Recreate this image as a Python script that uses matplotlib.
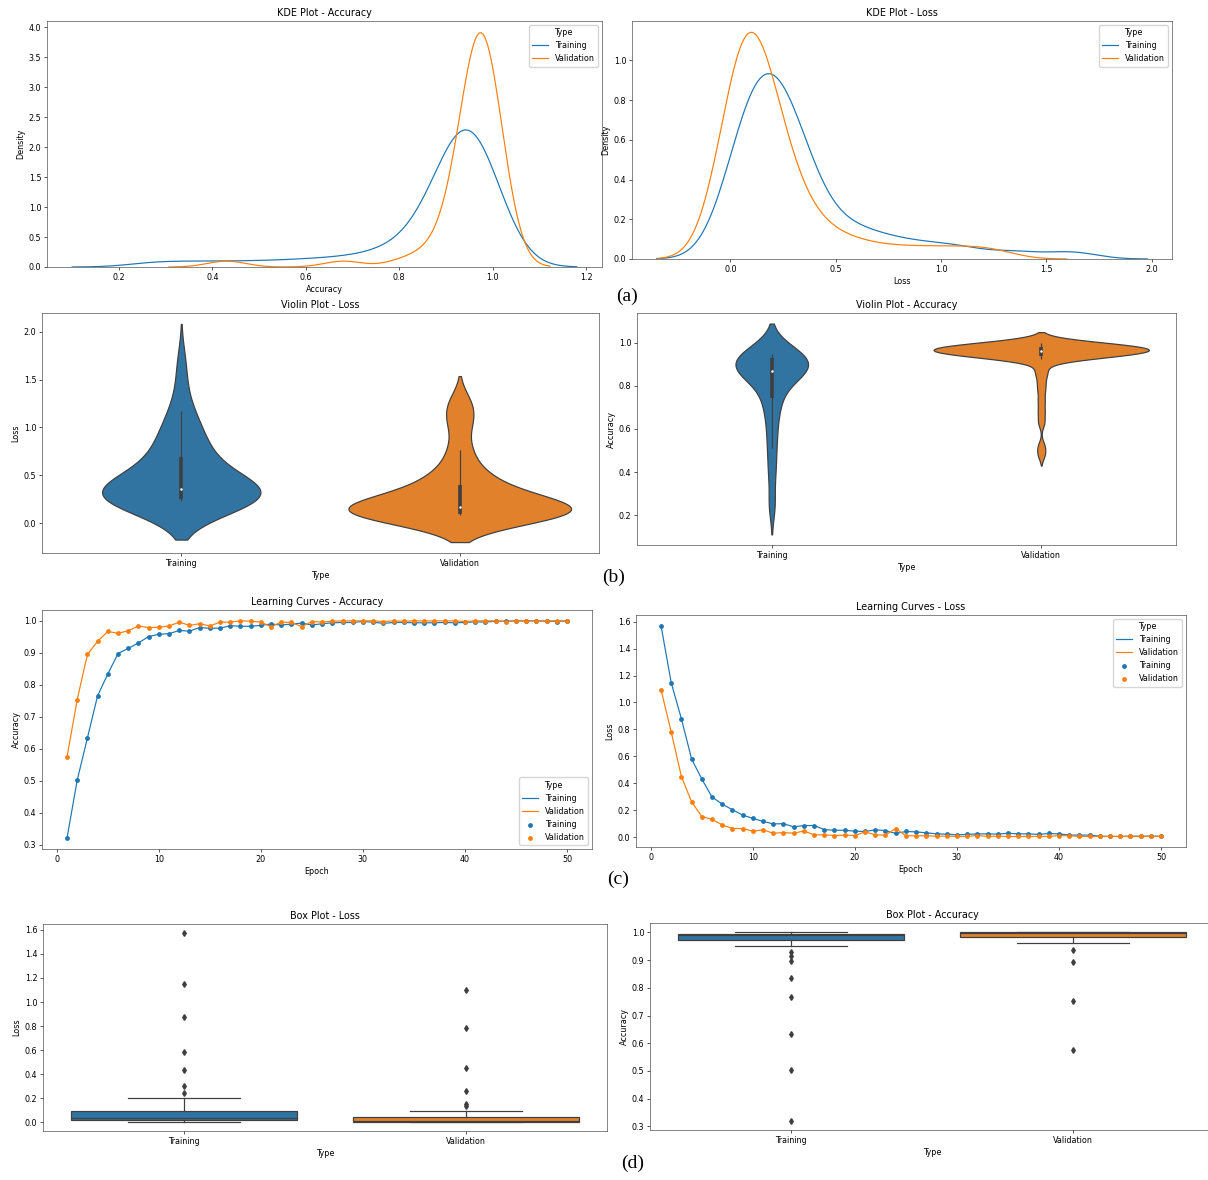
import numpy as np
import matplotlib
matplotlib.use("Agg")
import matplotlib.pyplot as plt

# ---------------- data ----------------
types = ["Training", "Validation"]
epochs = list(range(1, 51))
train_acc = [0.321, 0.502, 0.634, 0.766, 0.834, 0.898, 0.914, 0.931, 0.951, 0.958,
             0.960, 0.970, 0.968, 0.979, 0.977, 0.977, 0.985, 0.983, 0.983, 0.986,
             0.990, 0.987, 0.990, 0.993, 0.987, 0.991, 0.994, 0.995, 0.995, 0.998,
             0.996, 0.992, 0.995, 0.995, 0.994, 0.994, 0.994, 0.995, 0.994, 0.995,
             0.997, 0.996, 0.999, 0.999, 1.000, 1.000, 1.000, 0.999, 0.998, 1.000]
val_acc = [0.574, 0.754, 0.895, 0.936, 0.967, 0.961, 0.969, 0.984, 0.979, 0.980,
           0.984, 0.996, 0.986, 0.991, 0.984, 0.996, 0.996, 1.000, 0.999, 0.996,
           0.982, 0.996, 0.995, 0.982, 0.998, 0.996, 0.999, 1.000, 1.000, 1.000,
           1.000, 0.998, 1.000, 0.999, 1.000, 1.000, 1.000, 1.000, 1.000, 0.998,
           1.000, 1.000, 1.000, 0.998, 1.000, 1.000, 1.000, 1.000, 1.000, 1.000]
train_loss = [1.571, 1.147, 0.878, 0.580, 0.431, 0.298, 0.245, 0.203, 0.164, 0.139,
              0.117, 0.098, 0.100, 0.076, 0.086, 0.086, 0.056, 0.051, 0.051, 0.044,
              0.042, 0.054, 0.049, 0.027, 0.042, 0.039, 0.032, 0.024, 0.022, 0.017,
              0.020, 0.024, 0.024, 0.022, 0.029, 0.024, 0.024, 0.020, 0.027, 0.024,
              0.015, 0.015, 0.015, 0.007, 0.005, 0.005, 0.007, 0.007, 0.007, 0.007]
val_loss = [1.096, 0.780, 0.450, 0.262, 0.152, 0.132, 0.091, 0.064, 0.064, 0.044,
            0.054, 0.029, 0.034, 0.029, 0.046, 0.017, 0.017, 0.012, 0.015, 0.012,
            0.039, 0.017, 0.015, 0.064, 0.010, 0.010, 0.010, 0.007, 0.007, 0.005,
            0.005, 0.012, 0.005, 0.007, 0.005, 0.005, 0.005, 0.005, 0.005, 0.012,
            0.010, 0.005, 0.005, 0.005, 0.005, 0.005, 0.005, 0.005, 0.005, 0.005]

# samples behind the KDE panels (a)
kde_train_acc = [0.28, 0.38, 0.48, 0.57, 0.64,
                 0.70, 0.745, 0.78, 0.81, 0.83, 0.845, 0.86, 0.87,
                 0.88, 0.89, 0.90, 0.905, 0.91, 0.915, 0.92, 0.92, 0.925, 0.93,
                 0.93, 0.93, 0.935, 0.935, 0.94, 0.94, 0.94, 0.945,
                 0.95, 0.95, 0.95, 0.955, 0.955, 0.96, 0.96, 0.96, 0.965, 0.97,
                 0.97, 0.975, 0.98, 0.98, 0.985, 0.99, 0.99, 0.995, 1.0]
kde_val_acc = [0.43, 0.68, 0.81, 0.86, 0.885, 0.905, 0.92, 0.93,
               0.94, 0.945, 0.95, 0.95, 0.955, 0.955, 0.955, 0.96, 0.96, 0.96,
               0.965, 0.965, 0.965, 0.97, 0.97, 0.97, 0.97, 0.975, 0.975, 0.975,
               0.975, 0.98, 0.98, 0.98, 0.98, 0.98, 0.985, 0.985, 0.985, 0.985,
               0.99, 0.99, 0.99, 0.99, 0.995, 0.995, 0.995, 1.0, 1.0, 1.0,
               1.0, 1.0]
kde_train_loss = [0.01, 0.02, 0.03, 0.04, 0.05, 0.06, 0.07, 0.08, 0.09, 0.10,
                  0.11, 0.115, 0.12, 0.13, 0.14, 0.15, 0.155, 0.16, 0.17,
                  0.18, 0.19, 0.20, 0.21, 0.22, 0.23, 0.24, 0.25, 0.26,
                  0.27, 0.28, 0.29, 0.30, 0.31, 0.32, 0.33, 0.34, 0.35, 0.36,
                  0.43, 0.48, 0.52, 0.57, 0.63, 0.70, 0.78, 0.88, 1.00, 1.12,
                  1.35, 1.62]
kde_val_loss = [0.0, 0.0, 0.01, 0.01, 0.02, 0.02, 0.03, 0.03, 0.04, 0.04,
                0.05, 0.05, 0.06, 0.06, 0.07, 0.07, 0.08, 0.08, 0.09, 0.09,
                0.10, 0.10, 0.11, 0.11, 0.12, 0.12, 0.13, 0.14, 0.15, 0.16,
                0.17, 0.18, 0.19, 0.20, 0.21, 0.22, 0.24, 0.26, 0.28, 0.30,
                0.33, 0.37, 0.42, 0.48, 0.56, 0.66, 0.80, 0.95, 1.10, 1.25]

# samples behind the violin panels (b)
vio_train_loss = [0.23, 0.232, 0.235, 0.238, 0.24, 0.242, 0.245, 0.247, 0.249, 0.25,
                  0.252, 0.26, 0.27, 0.28, 0.29, 0.30, 0.315, 0.33, 0.345, 0.355,
                  0.365, 0.38, 0.40, 0.43, 0.46, 0.50, 0.55, 0.60, 0.65, 0.68,
                  0.72, 0.76, 0.82, 0.88, 0.95, 1.02, 1.10, 1.17, 1.40, 1.68]
vio_val_loss = [0.09, 0.095, 0.098, 0.10, 0.10, 0.10, 0.11, 0.13, 0.15, 0.16,
                0.18, 0.22, 0.27, 0.32, 0.38, 0.46, 0.55, 0.76, 1.05, 1.25]
vio_train_acc = [0.25, 0.40, 0.51, 0.60, 0.68, 0.74, 0.76, 0.85, 0.855, 0.86,
                 0.862, 0.874, 0.88, 0.89, 0.90, 0.925, 0.93, 0.935, 0.94, 0.945,
                 0.948, 0.95]
vio_val_acc = [0.48, 0.52, 0.63, 0.68, 0.73, 0.78, 0.82, 0.86, 0.875,
               0.925, 0.93, 0.934, 0.935, 0.937, 0.938, 0.94,
               0.942, 0.944, 0.945, 0.947, 0.948, 0.95, 0.951, 0.953, 0.954, 0.955,
               0.957, 0.958, 0.959, 0.96, 0.962, 0.964, 0.965, 0.966, 0.968, 0.969,
               0.97, 0.972, 0.973, 0.974, 0.975, 0.976, 0.977, 0.978, 0.98, 0.98,
               0.981, 0.983, 0.984, 0.985, 0.987, 0.988, 0.99, 0.991, 0.993, 0.994,
               0.996, 0.998, 1.0, 1.0]

# ---------------- style ----------------
LINE_COLORS = ["#1f77b4", "#ff7f0e"]
SAT_COLORS = ["#3274a1", "#e1812c"]
GRAY = "#3f3f3f"
SC = 0.58
plt.rcParams.update({
    "font.family": ["DejaVu Sans"],
    "font.size": 10 * SC,
    "axes.titlesize": 12 * SC,
    "axes.labelsize": 10 * SC,
    "xtick.labelsize": 10 * SC,
    "ytick.labelsize": 10 * SC,
    "legend.fontsize": 10 * SC,
    "legend.title_fontsize": 10 * SC,
    "lines.linewidth": 1.5 * SC,
    "axes.linewidth": 0.8 * SC,
    "xtick.major.size": 3.5 * SC,
    "ytick.major.size": 3.5 * SC,
    "xtick.major.width": 0.8 * SC,
    "ytick.major.width": 0.8 * SC,
    "xtick.major.pad": 3.5 * SC,
    "ytick.major.pad": 3.5 * SC,
    "axes.labelpad": 4.0 * SC,
    "axes.titlepad": 6.0 * SC,
    "axes.edgecolor": "#444444",
})

W, H = 1208, 1180
fig = plt.figure(figsize=(W / 100, H / 100), dpi=100)


def add_ax(x1, y1, x2, y2):
    return fig.add_axes([x1 / W, 1 - y2 / H, (x2 - x1) / W, (y2 - y1) / H])


def gauss_kde(samples, bw, grid):
    s = np.asarray(samples, float)
    z = (grid[:, None] - s[None, :]) / bw
    return np.exp(-0.5 * z ** 2).sum(axis=1) / (len(s) * bw * np.sqrt(2 * np.pi))


def kde_panel(ax, groups, bws, title, xlabel):
    ntot = sum(len(g) for g in groups)
    for g, bw, c, name in zip(groups, bws, LINE_COLORS, types):
        grid = np.linspace(min(g) - 3 * bw, max(g) + 3 * bw, 200)
        dens = gauss_kde(g, bw, grid) * len(g) / ntot
        ax.plot(grid, dens, color=c, label=name)
    ax.set_ylim(bottom=0)
    ax.set_title(title)
    ax.set_xlabel(xlabel)
    ax.set_ylabel("Density")
    ax.legend(title="Type", loc="upper right")


def violin_panel(ax, groups, bws, title, ylabel):
    supports = []
    for g, bw in zip(groups, bws):
        grid = np.linspace(min(g) - 2 * bw, max(g) + 2 * bw, 120)
        supports.append((grid, gauss_kde(g, bw, grid)))
    gmax = max(d.max() for _, d in supports)
    for i, ((grid, d), g, c) in enumerate(zip(supports, groups, SAT_COLORS)):
        hw = 0.4 * d / gmax
        ax.fill_betweenx(grid, i - hw, i + hw, facecolor=c, edgecolor=GRAY,
                         linewidth=1.5 * SC)
        a = np.asarray(g, float)
        q25, q50, q75 = np.percentile(a, [25, 50, 75])
        iqr = q75 - q25
        lo = a[a >= q25 - 1.5 * iqr].min()
        hi = a[a <= q75 + 1.5 * iqr].max()
        ax.plot([i, i], [lo, hi], color=GRAY, lw=1.5 * SC, solid_capstyle="butt")
        ax.plot([i, i], [q25, q75], color=GRAY, lw=4.5 * SC, solid_capstyle="butt")
        ax.scatter([i], [q50], color="white", edgecolor=GRAY, s=(3 * SC) ** 2 * 1.5,
                   linewidth=0.5 * SC, zorder=3)
    ax.set_xlim(-0.5, 1.5)
    ax.set_xticks([0, 1])
    ax.set_xticklabels(types)
    ax.set_title(title)
    ax.set_xlabel("Type")
    ax.set_ylabel(ylabel)


def box_panel(ax, groups, title, ylabel):
    bp = ax.boxplot(groups, positions=[0, 1], widths=0.8, whis=1.5,
                    patch_artist=True,
                    boxprops=dict(edgecolor=GRAY, linewidth=1.5 * SC),
                    medianprops=dict(color=GRAY, linewidth=1.5 * SC),
                    whiskerprops=dict(color=GRAY, linewidth=1.5 * SC),
                    capprops=dict(color=GRAY, linewidth=1.5 * SC),
                    flierprops=dict(marker="d", markerfacecolor=GRAY,
                                    markeredgecolor=GRAY, markersize=5 * SC))
    for patch, c in zip(bp["boxes"], SAT_COLORS):
        patch.set_facecolor(c)
    ax.set_xlim(-0.5, 1.5)
    ax.set_xticks([0, 1])
    ax.set_xticklabels(types)
    ax.set_title(title)
    ax.set_xlabel("Type")
    ax.set_ylabel(ylabel)


def curve_panel(ax, series, title, ylabel, loc):
    for s, c, name in zip(series, LINE_COLORS, types):
        ax.plot(epochs, s, color=c, label=name)
    for s, c, name in zip(series, LINE_COLORS, types):
        ax.scatter(epochs, s, color=c, s=36 * SC * SC, label=name, zorder=3,
                   linewidths=0)
    ax.set_title(title)
    ax.set_xlabel("Epoch")
    ax.set_ylabel(ylabel)
    ax.legend(title="Type", loc=loc)


# (a) KDE plots
ax = add_ax(47, 21, 602, 267)
kde_panel(ax, [kde_train_acc, kde_val_acc], [0.06, 0.041], "KDE Plot - Accuracy", "Accuracy")
ax.set_xticks([0.2, 0.4, 0.6, 0.8, 1.0, 1.2])

ax = add_ax(632, 21, 1172, 259)
kde_panel(ax, [kde_train_loss, kde_val_loss], [0.12, 0.115], "KDE Plot - Loss", "Loss")
ax.set_xticks([0.0, 0.5, 1.0, 1.5, 2.0])

# (b) violin plots
ax = add_ax(42, 313, 599, 553)
violin_panel(ax, [vio_train_loss, vio_val_loss], [0.2, 0.143], "Violin Plot - Loss", "Loss")
ax = add_ax(637, 313, 1176, 545)
violin_panel(ax, [vio_train_acc, vio_val_acc], [0.07, 0.025], "Violin Plot - Accuracy", "Accuracy")

# (c) learning curves
ax = add_ax(42, 610, 592, 849)
curve_panel(ax, [train_acc, val_acc], "Learning Curves - Accuracy", "Accuracy", "lower right")
ax = add_ax(636, 615, 1186, 847)
curve_panel(ax, [train_loss, val_loss], "Learning Curves - Loss", "Loss", "upper right")

# (d) box plots
ax = add_ax(43, 924, 607, 1131)
box_panel(ax, [train_loss, val_loss], "Box Plot - Loss", "Loss")
ax = add_ax(650, 923, 1214, 1130)
box_panel(ax, [train_acc, val_acc], "Box Plot - Accuracy", "Accuracy")

# panel letters
for lab, x, y in [("(a)", 627, 296), ("(b)", 614, 577), ("(c)", 618, 879), ("(d)", 633, 1163)]:
    fig.text(x / W, 1 - y / H, lab, family="Liberation Serif", fontsize=14,
             ha="center", va="center")

fig.savefig("out.png", dpi=100)
